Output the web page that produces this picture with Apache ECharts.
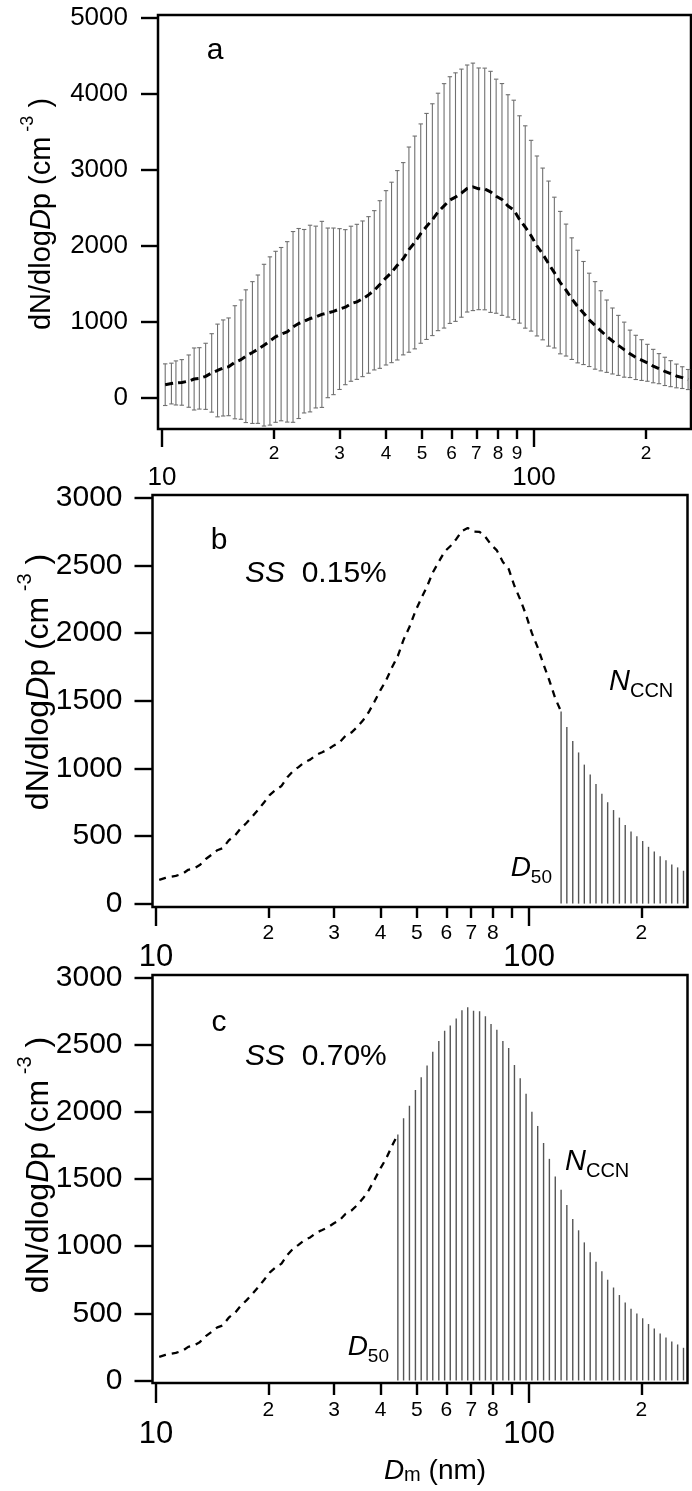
<!DOCTYPE html>
<html>
<head>
<meta charset="utf-8">
<script src="https://cdn.jsdelivr.net/npm/echarts@6/dist/echarts.min.js"></script>
<style>
  html, body { margin: 0; padding: 0; background: #fff; }
  #chart { width: 692px; height: 1491px; }
</style>
</head>
<body>
<div id="chart"></div>
<script>
// Mobility diameter bin midpoints (nm), 64 channels per decade
const diameters = [
  10.2, 10.6, 10.9, 11.3, 11.8, 12.2, 12.6, 13.1, 13.6, 14.1,
  14.6, 15.1, 15.7, 16.3, 16.8, 17.5, 18.1, 18.8, 19.5, 20.2,
  20.9, 21.7, 22.5, 23.3, 24.1, 25.0, 25.9, 26.9, 27.9, 28.9,
  30.0, 31.1, 32.2, 33.4, 34.6, 35.9, 37.2, 38.5, 40.0, 41.4,
  42.9, 44.5, 46.1, 47.8, 49.6, 51.4, 53.3, 55.2, 57.3, 59.4,
  61.5, 63.8, 66.1, 68.5, 71.0, 73.7, 76.4, 79.1, 82.0, 85.1,
  88.2, 91.4, 94.7, 98.2, 101.8, 105.5, 109.4, 113.4, 117.6, 121.9,
  126.3, 131.0, 135.8, 140.7, 145.9, 151.2, 156.8, 162.5, 168.5, 174.7,
  181.1, 187.7, 194.6, 201.7, 209.1, 216.7, 224.7, 232.9, 241.4, 250.3,
  259.5
];

// Mean dN/dlogDp (cm^-3)
const meanConc = [
  175, 190, 198, 205, 222, 250, 258, 285, 330, 362,
  395, 410, 470, 505, 550, 598, 642, 695, 750, 805,
  840, 870, 935, 980, 1010, 1045, 1065, 1100, 1120, 1140,
  1170, 1195, 1240, 1265, 1305, 1356, 1417, 1493, 1581, 1652,
  1746, 1832, 1952, 2046, 2163, 2257, 2346, 2448, 2528, 2604,
  2643, 2695, 2756, 2778, 2752, 2750, 2712, 2655, 2612, 2527,
  2475, 2349, 2250, 2135, 2000, 1895, 1768, 1650, 1518, 1420,
  1307, 1203, 1118, 1028, 955, 884, 813, 750, 692, 636,
  581, 534, 499, 463, 420, 386, 350, 320, 290, 268,
  243
];

// Standard deviation of dN/dlogDp (cm^-3)
const stdConc = [
  274, 268, 290, 300, 344, 408, 404, 435, 516, 610,
  632, 643, 744, 785, 873, 933, 976, 1064, 1107, 1125,
  1140, 1187, 1255, 1250, 1207, 1228, 1196, 1224, 1116, 1096,
  1058, 1020, 1020, 1020, 1024, 1030, 1048, 1103, 1147, 1187,
  1246, 1265, 1350, 1400, 1443, 1487, 1525, 1562, 1608, 1623,
  1635, 1632, 1625, 1628, 1590, 1590, 1586, 1540, 1525, 1463,
  1443, 1364, 1331, 1255, 1184, 1130, 1086, 992, 937, 868,
  800, 741, 678, 614, 576, 527, 476, 434, 395, 362,
  312, 291, 268, 243, 220, 198, 186, 171, 156, 143,
  132
];

// Index of the first activated bin (D50) for each supersaturation
const d50IndexB = 69;   // SS 0.15%
const d50IndexC = 41;   // SS 0.70%

// Axis ticks
const xMinorTicks = [20, 30, 40, 50, 60, 70, 80, 90, 200];
const xMinorLabelsA = [20, 30, 40, 50, 60, 70, 80, 90, 200];
const xMinorLabelsBC = [20, 30, 40, 50, 60, 70, 80, 200];
const xMajorTicks = [10, 100];
const yTicksA = [0, 1000, 2000, 3000, 4000, 5000];
const yTicksBC = [0, 500, 1000, 1500, 2000, 2500, 3000];

const FONT = '"Liberation Sans", Arial, Helvetica, sans-serif';

const panels = [
  { left: 158, top: 15, right: 691, bottom: 429, xmin: 9.755, xmax: 264.2, ymin: -408, ymax: 5039,
    yTicks: yTicksA, yFont: 26, yTickLen: 17,
    minorLabels: xMinorLabelsA, minorLen: 10, majorLen: 18, minorFont: 19, majorFont: 26,
    minorMargin: 15, majorMargin: 36 },
  { left: 152.5, top: 495, right: 687.5, bottom: 907, xmin: 9.786, xmax: 266.0, ymin: -25, ymax: 3022,
    yTicks: yTicksBC, yFont: 30, yTickLen: 18,
    minorLabels: xMinorLabelsBC, minorLen: 11, majorLen: 19, minorFont: 21, majorFont: 31,
    minorMargin: 16, majorMargin: 35 },
  { left: 152.5, top: 975, right: 687.5, bottom: 1383, xmin: 9.786, xmax: 266.0, ymin: -19, ymax: 3019,
    yTicks: yTicksBC, yFont: 30, yTickLen: 18,
    minorLabels: xMinorLabelsBC, minorLen: 12, majorLen: 20, minorFont: 21, majorFont: 31,
    minorMargin: 17, majorMargin: 36 }
];

const grids = panels.map(p => ({
  left: p.left, top: p.top, width: p.right - p.left, height: p.bottom - p.top,
  show: true, borderColor: '#000', borderWidth: 2.5, backgroundColor: 'transparent',
  containLabel: false
}));

const tickStyle = { color: '#000', width: 2.4 };
const xAxes = [];
const yAxes = [];
panels.forEach((p, g) => {
  xAxes.push({
    type: 'log', logBase: 10, gridIndex: g, min: p.xmin, max: p.xmax, position: 'bottom',
    axisLine: { show: false, onZero: false }, splitLine: { show: false },
    axisTick: { show: true, inside: false, length: p.minorLen, lineStyle: tickStyle, customValues: xMinorTicks },
    axisLabel: {
      show: true, customValues: p.minorLabels, margin: p.minorMargin, fontSize: p.minorFont,
      color: '#000', fontFamily: FONT,
      formatter: v => String(Math.round(v / Math.pow(10, Math.floor(Math.log10(v) + 1e-9))))
    }
  });
  xAxes.push({
    type: 'log', logBase: 10, gridIndex: g, min: p.xmin, max: p.xmax, position: 'bottom',
    axisLine: { show: false, onZero: false }, splitLine: { show: false },
    axisTick: { show: true, inside: false, length: p.majorLen, lineStyle: tickStyle, customValues: xMajorTicks },
    axisLabel: {
      show: true, customValues: xMajorTicks, margin: p.majorMargin, fontSize: p.majorFont,
      color: '#000', fontFamily: FONT, formatter: v => String(Math.round(v))
    }
  });
  yAxes.push({
    type: 'value', gridIndex: g, min: p.ymin, max: p.ymax,
    axisLine: { show: false, onZero: false }, splitLine: { show: false },
    axisTick: { show: true, inside: false, length: p.yTickLen, lineStyle: tickStyle, customValues: p.yTicks },
    axisLabel: {
      show: true, customValues: p.yTicks, margin: 30, fontSize: p.yFont, color: '#000', fontFamily: FONT,
      formatter: v => String(Math.round(v))
    }
  });
});

const rows = diameters.map((d, i) => [d, meanConc[i], stdConc[i]]);

// mean +/- standard deviation whiskers with caps
function errorBarItem(params, api) {
  const x = api.value(0), m = api.value(1), s = api.value(2);
  const top = api.coord([x, m + s]);
  const bot = api.coord([x, m - s]);
  const hw = 2.2;
  const style = { stroke: '#707070', lineWidth: 1.1 };
  return {
    type: 'group',
    children: [
      { type: 'line', shape: { x1: top[0], y1: top[1], x2: bot[0], y2: bot[1] }, style },
      { type: 'line', shape: { x1: top[0] - hw, y1: top[1], x2: top[0] + hw, y2: top[1] }, style },
      { type: 'line', shape: { x1: bot[0] - hw, y1: bot[1], x2: bot[0] + hw, y2: bot[1] }, style }
    ]
  };
}

// vertical stems from zero for the activated (CCN) part of the distribution
function stemItem(params, api) {
  const x = api.value(0), y = api.value(1);
  const p0 = api.coord([x, 0]);
  const p1 = api.coord([x, y]);
  return {
    type: 'line',
    shape: { x1: p0[0], y1: p0[1], x2: p1[0], y2: p1[1] },
    style: { stroke: '#555', lineWidth: 1.4 }
  };
}

const series = [
  { type: 'custom', xAxisIndex: 0, yAxisIndex: 0, renderItem: errorBarItem, data: rows, encode: { x: 0, y: 1 }, z: 2 },
  { type: 'line', xAxisIndex: 0, yAxisIndex: 0, data: rows.map(r => [r[0], r[1]]), showSymbol: false, symbol: 'none',
    lineStyle: { color: '#000', width: 3, type: [8, 5] }, z: 3 },
  { type: 'line', xAxisIndex: 2, yAxisIndex: 1, data: rows.slice(0, d50IndexB + 1).map(r => [r[0], r[1]]), symbol: 'none',
    lineStyle: { color: '#000', width: 2.3, type: [7, 6] }, z: 3 },
  { type: 'custom', xAxisIndex: 2, yAxisIndex: 1, renderItem: stemItem, data: rows.slice(d50IndexB), encode: { x: 0, y: 1 }, z: 2 },
  { type: 'line', xAxisIndex: 4, yAxisIndex: 2, data: rows.slice(0, d50IndexC + 1).map(r => [r[0], r[1]]), symbol: 'none',
    lineStyle: { color: '#000', width: 2.3, type: [7, 6] }, z: 3 },
  { type: 'custom', xAxisIndex: 4, yAxisIndex: 2, renderItem: stemItem, data: rows.slice(d50IndexC), encode: { x: 0, y: 1 }, z: 2 }
];

function txt(x, y, text, rich, extra) {
  return {
    type: 'text', x: x, y: y, z: 10,
    style: Object.assign({ text: text, rich: rich, fill: '#000', fontFamily: FONT, align: 'left', verticalAlign: 'middle' }, extra || {})
  };
}

const titleRich = (fs) => ({
  n: { fontSize: fs, fontFamily: FONT, lineHeight: fs + 8, verticalAlign: 'bottom' },
  i: { fontSize: fs, fontFamily: FONT, fontStyle: 'italic', lineHeight: fs + 8, verticalAlign: 'bottom' },
  s: { fontSize: Math.round(fs * 0.62), fontFamily: FONT, lineHeight: Math.round(fs * 0.62), verticalAlign: 'top' }
});
const yTitle = '{n|dN/dlog}{i|D}{n|p (cm}{s| -3}{n| )}';

const ssRich = {
  i: { fontSize: 30, fontFamily: FONT, fontStyle: 'italic' },
  n: { fontSize: 30, fontFamily: FONT }
};
const nccnRich = {
  i: { fontSize: 29, fontFamily: FONT, fontStyle: 'italic', lineHeight: 34, verticalAlign: 'top' },
  s: { fontSize: 20, fontFamily: FONT, lineHeight: 20, verticalAlign: 'bottom' }
};
const d50Rich = {
  i: { fontSize: 28, fontFamily: FONT, fontStyle: 'italic', lineHeight: 33, verticalAlign: 'top' },
  s: { fontSize: 19, fontFamily: FONT, lineHeight: 19, verticalAlign: 'bottom' }
};
const dmRich = {
  i: { fontSize: 28, fontFamily: FONT, fontStyle: 'italic', verticalAlign: 'bottom', lineHeight: 30 },
  s: { fontSize: 20, fontFamily: FONT, verticalAlign: 'bottom', lineHeight: 26 },
  n: { fontSize: 28, fontFamily: FONT, verticalAlign: 'bottom', lineHeight: 30 }
};

const graphic = [
  // panel letters
  txt(215, 51, 'a', null, { fontSize: 30, align: 'center' }),
  txt(219, 541, 'b', null, { fontSize: 30, align: 'center' }),
  txt(219, 1023, 'c', null, { fontSize: 30, align: 'center' }),
  // supersaturation
  txt(245, 574, '{i|SS}{n|  0.15%}', ssRich),
  txt(245, 1057, '{i|SS}{n|  0.70%}', ssRich),
  // CCN number
  txt(609, 684, '{i|N}{s|CCN}', nccnRich),
  txt(565, 1164, '{i|N}{s|CCN}', nccnRich),
  // D50
  txt(552, 871, '{i|D}{s|50}', d50Rich, { align: 'right' }),
  txt(389, 1350, '{i|D}{s|50}', d50Rich, { align: 'right' }),
  // x title
  txt(435, 1470, '{i|D}{s|m}{n| (nm)}', dmRich, { align: 'center' }),
  // y titles
  Object.assign(txt(38, 214, yTitle, titleRich(29), { align: 'center' }), { rotation: Math.PI / 2 }),
  Object.assign(txt(35, 682, yTitle, titleRich(32), { align: 'center' }), { rotation: Math.PI / 2 }),
  Object.assign(txt(35, 1165, yTitle, titleRich(32), { align: 'center' }), { rotation: Math.PI / 2 })
];

const chart = echarts.init(document.getElementById('chart'), null, { renderer: 'canvas' });
chart.setOption({
  animation: false,
  backgroundColor: '#fff',
  textStyle: { fontFamily: FONT },
  grid: grids,
  xAxis: xAxes,
  yAxis: yAxes,
  series: series,
  graphic: graphic
});
</script>
</body>
</html>
